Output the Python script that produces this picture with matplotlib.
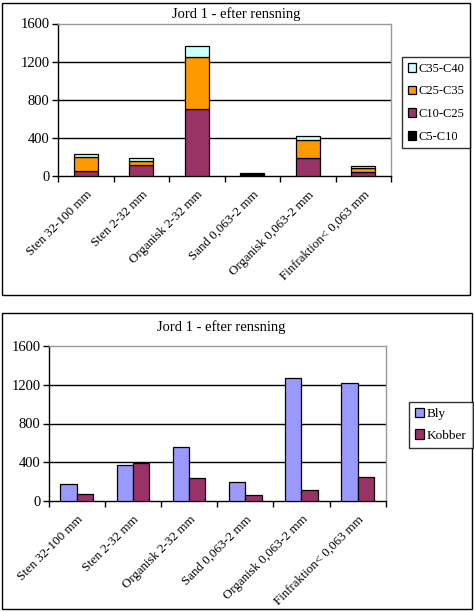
import matplotlib
matplotlib.use("Agg")
import matplotlib.pyplot as plt
from matplotlib.patches import Rectangle
import numpy as np

plt.rcParams['font.family'] = ['Liberation Serif', 'DejaVu Serif']

categories = ["Sten 32-100 mm", "Sten 2-32 mm", "Organisk 2-32 mm", "Sand 0,063-2 mm",
              "Organisk 0,063-2 mm", "Finfraktion< 0,063 mm"]

# top chart (stacked)
c5_c10 = [0, 0, 0, 0, 0, 0]
c10_c25 = [52, 118, 701, 15, 188, 45]
c25_c35 = [147, 39, 543, 12, 188, 45]
c35_c40 = [31, 31, 116, 10, 46, 15]

# bottom chart (grouped)
bly = [169, 366, 553, 190, 1268, 1217]
kobber = [66, 387, 232, 55, 107, 242]

yticks = [0, 400, 800, 1200, 1600]
title = "Jord 1 - efter rensning"

W, H = 474, 612
fig = plt.figure(figsize=(W/100, H/100), dpi=100)

# panel borders
fig.patches.append(Rectangle((2/W, 1 - 295/H), 468/W, 292/H, transform=fig.transFigure,
                             fill=False, edgecolor='black', linewidth=1.0))
fig.patches.append(Rectangle((2/W, 1 - 609/H), 470/W, 296/H, transform=fig.transFigure,
                             fill=False, edgecolor='black', linewidth=1.0))

def style_axes(ax):
    ax.set_xlim(-0.5, len(categories) - 0.5)
    ax.set_ylim(0, 1600)
    ax.set_yticks(yticks)
    ax.set_yticklabels([str(v) for v in yticks], fontsize=10.5)
    for v in yticks[1:-1]:
        ax.axhline(v, color='black', linewidth=1.0, zorder=0)
    ax.spines['top'].set_color('#999999')
    ax.spines['right'].set_color('#999999')
    ax.spines['left'].set_color('black')
    ax.spines['bottom'].set_color('black')
    for s in ax.spines.values():
        s.set_linewidth(1.0)
    ax.tick_params(axis='y', direction='out', length=4, pad=2, width=1)
    ax.set_xticks(np.arange(len(categories)))
    ax.set_xticklabels(categories, rotation=45, ha='right', rotation_mode='anchor', fontsize=9.4)
    ax.tick_params(axis='x', length=0, pad=9)
    ax.set_xticks(np.arange(-0.5, len(categories)), minor=True)
    ax.tick_params(axis='x', which='minor', direction='out', length=4, width=1)

# ---- top chart ----
ax1 = fig.add_axes([58/W, 1 - 176.3/H, 333/W, 152.8/H])
x = np.arange(len(categories))
bw = 0.43
b0 = np.zeros(len(categories))
series = [("C5-C10", c5_c10, "black"), ("C10-C25", c10_c25, "#993366"),
          ("C25-C35", c25_c35, "#FF9900"), ("C35-C40", c35_c40, "#CCFFFF")]
handles = []
for name, vals, col in series:
    vals = np.array(vals, dtype=float)
    h = ax1.bar(x, vals, bw, bottom=b0, color=col, edgecolor='black', linewidth=0.9,
                label=name, zorder=3)
    handles.append(h)
    b0 = b0 + vals
style_axes(ax1)
fig.text(236/W, 1 - 14/H, title, ha='center', va='center', fontsize=10.5)
leg1 = fig.legend(handles[::-1], [s[0] for s in series][::-1], loc='upper left',
                  bbox_to_anchor=(402/W, 1 - 57/H), fontsize=9, frameon=True,
                  fancybox=False, edgecolor='black', handlelength=0.7, handleheight=0.7,
                  handletextpad=0.2, borderpad=0.45, labelspacing=0.85, borderaxespad=0)
leg1.get_frame().set_linewidth(1.0)

# ---- bottom chart ----
ax2 = fig.add_axes([48.7/W, 1 - 500.7/H, 337/W, 154.4/H])
gw = 0.29
hb = ax2.bar(x - gw/2, bly, gw, color='#9999FF', edgecolor='black', linewidth=0.9,
             label='Bly', zorder=3)
hk = ax2.bar(x + gw/2, kobber, gw, color='#993366', edgecolor='black', linewidth=0.9,
             label='Kobber', zorder=3)
style_axes(ax2)
fig.text(221/W, 1 - 327/H, title, ha='center', va='center', fontsize=10.5)
leg2 = fig.legend([hb, hk], ['Bly', 'Kobber'], loc='upper left',
                  bbox_to_anchor=(409/W, 1 - 402/H), fontsize=9.5, frameon=True,
                  fancybox=False, edgecolor='black', handlelength=0.7, handleheight=0.7,
                  handletextpad=0.2, borderpad=0.45, labelspacing=0.7, borderaxespad=0)
leg2.get_frame().set_linewidth(1.0)

fig.savefig("out.png", dpi=100)
